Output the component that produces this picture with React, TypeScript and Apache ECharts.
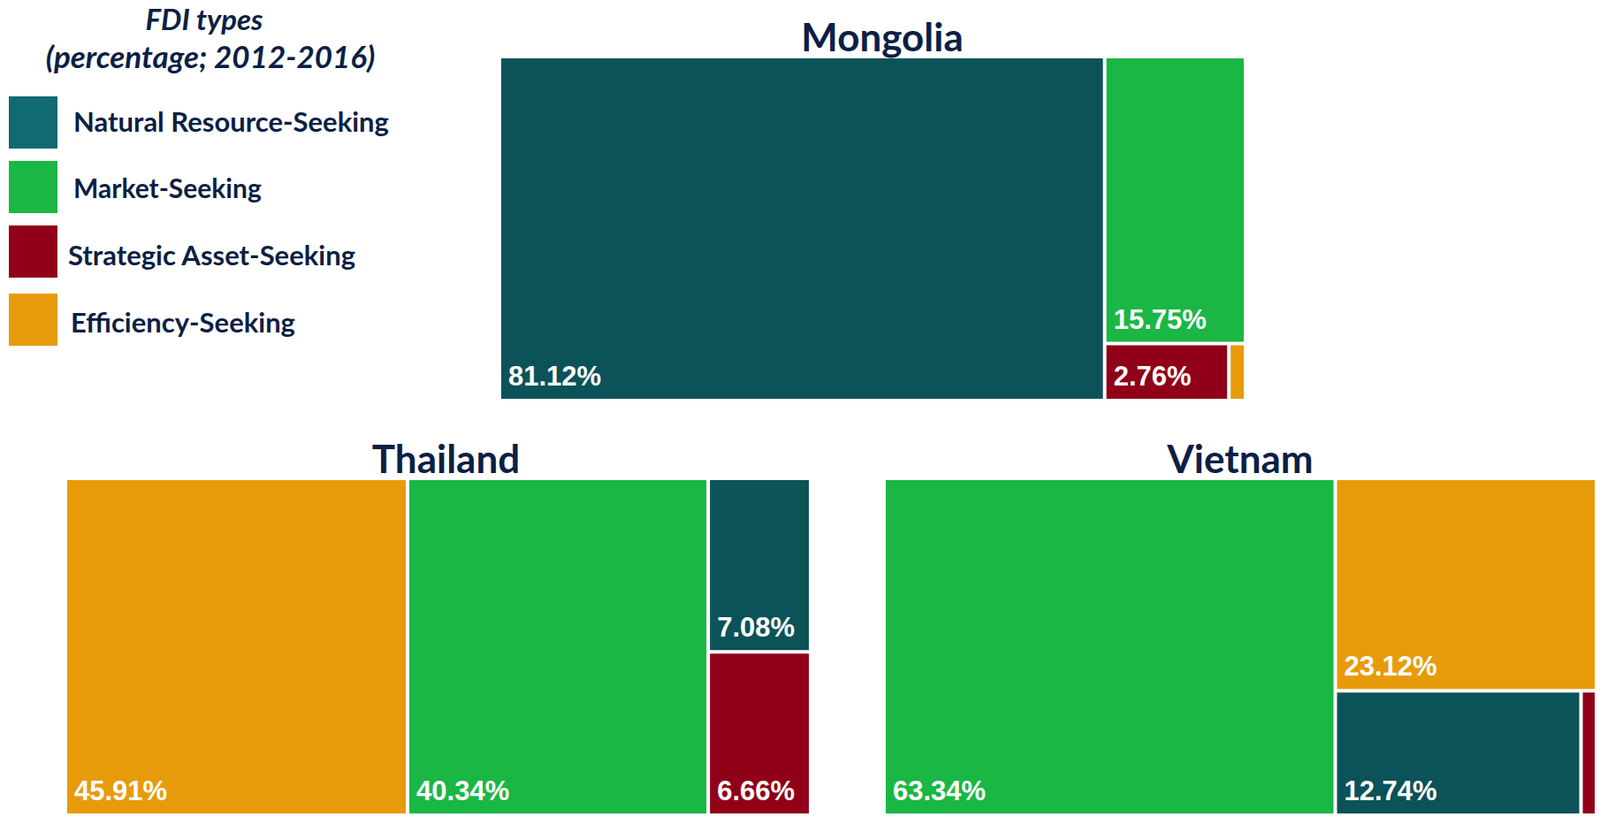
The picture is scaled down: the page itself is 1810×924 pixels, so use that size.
import React, { useEffect, useRef } from 'react';
import * as echarts from 'echarts';

// ---- data ----
const categories = ['Natural Resource-Seeking', 'Market-Seeking', 'Strategic Asset-Seeking', 'Efficiency-Seeking'];
const countries = ['Mongolia', 'Thailand', 'Vietnam'];
const mongoliaValues = [81.12, 15.75, 2.76, 0.37];
const thailandValues = [7.08, 40.34, 6.66, 45.91];
const vietnamValues = [12.74, 63.34, 0.8, 23.12];
const legendTitleLines = ['FDI types', '(percentage; 2012-2016)'];

// ---- styles ----
const cellColors = ['#0b5259', '#1ab744', '#900018', '#e79b0b'];
const legendColors = ['#0f6a72', '#1ab744', '#900018', '#e79b0b'];
const navy = '#0c1f45';

const boxes = [
  { left: 567, top: 66, width: 840, height: 385 },
  { left: 76, top: 543, width: 839, height: 377 },
  { left: 1002, top: 543, width: 802, height: 377 },
];
const titleDx = [11, 9, 0];
const legendSwatchY = [109, 182, 255, 332];
const legendTextX = [83, 83, 77, 80];
const legendTextY = [137, 212, 288, 364];
const legendTextSize = [31, 30, 31, 31];

export default function App() {
  const ref = useRef<HTMLDivElement>(null);
  useEffect(() => {
    if (!ref.current) return;
    const chart = echarts.init(ref.current, undefined, { renderer: 'svg' });
    const allValues = [mongoliaValues, thailandValues, vietnamValues];

    const series = countries.map((country, ci) => ({
      type: 'treemap',
      name: country,
      left: boxes[ci].left,
      top: boxes[ci].top,
      width: boxes[ci].width,
      height: boxes[ci].height,
      roam: false,
      nodeClick: false,
      silent: true,
      breadcrumb: { show: false },
      itemStyle: { gapWidth: 4, borderWidth: 0, borderColor: '#fff' },
      levels: [{ itemStyle: { gapWidth: 4, borderWidth: 0, borderColor: '#fff' } }],
      label: {
        show: true,
        position: 'insideBottomLeft',
        distance: 0,
        padding: [0, 0, 10, 8],
        color: '#fff',
        fontFamily: 'Liberation Sans, Arial, sans-serif',
        fontWeight: 'bold',
        fontSize: 31,
        formatter: (p: any) => (p.value < 1 ? '' : p.value.toFixed(2) + '%'),
      },
      upperLabel: { show: false },
      data: categories.map((c, i) => ({
        name: c,
        value: allValues[ci][i],
        itemStyle: { color: cellColors[i] },
      })),
    }));

    const graphic: any[] = [];
    countries.forEach((country, ci) => {
      graphic.push({
        type: 'text',
        x: boxes[ci].left + boxes[ci].width / 2 + titleDx[ci],
        y: boxes[ci].top - 25,
        style: {
          text: country,
          fill: navy,
          font: 'bold 44px Lato, sans-serif',
          textAlign: 'center',
          textVerticalAlign: 'middle',
        },
      });
    });
    legendTitleLines.forEach((t, i) => {
      graphic.push({
        type: 'text',
        x: i === 0 ? 231 : 238,
        y: i === 0 ? 21 : 63,
        style: {
          text: t,
          fill: navy,
          font: i === 0 ? 'italic bold 33px Lato, sans-serif' : 'italic bold 35px Lato, sans-serif',
          textAlign: 'center',
          textVerticalAlign: 'middle',
        },
      });
    });
    categories.forEach((c, i) => {
      graphic.push({
        type: 'rect',
        shape: { x: 10, y: legendSwatchY[i], width: 55, height: 59 },
        style: { fill: legendColors[i] },
      });
      graphic.push({
        type: 'text',
        x: legendTextX[i],
        y: legendTextY[i],
        style: {
          text: c,
          fill: navy,
          font: 'bold ' + legendTextSize[i] + 'px Lato, sans-serif',
          textAlign: 'left',
          textVerticalAlign: 'middle',
        },
      });
    });

    chart.setOption({
      animation: false,
      backgroundColor: '#fff',
      series,
      graphic,
    } as any);
    return () => chart.dispose();
  }, []);
  return <div ref={ref} style={{ position: 'fixed', left: 0, top: 0, width: 1810, height: 924 }} />;
}
